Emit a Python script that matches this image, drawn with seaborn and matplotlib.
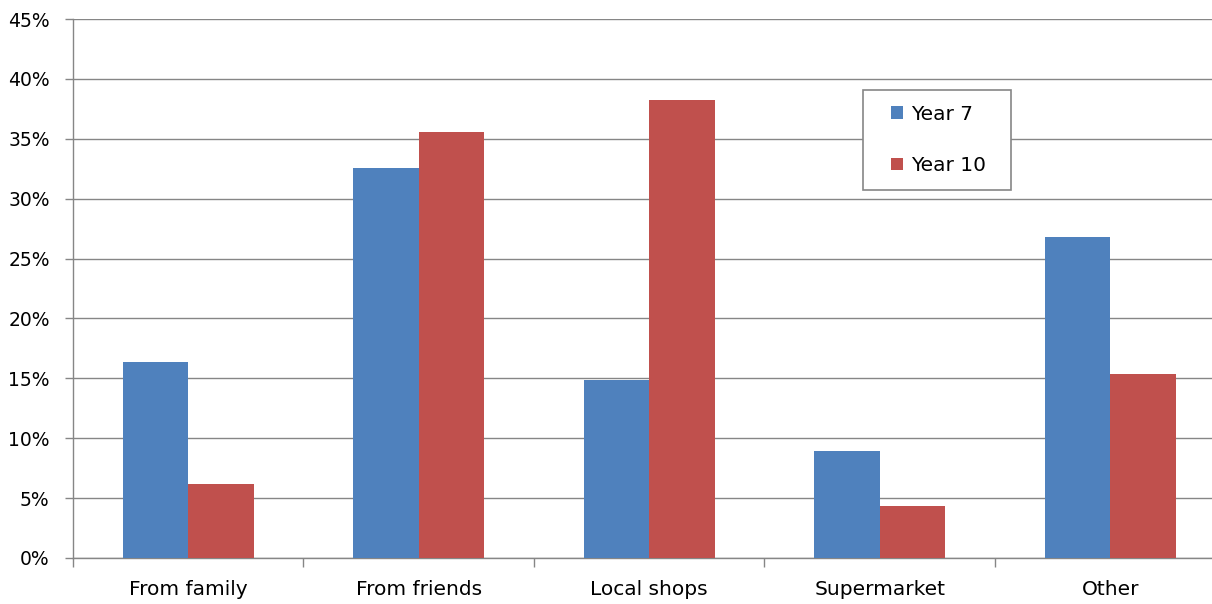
import matplotlib
matplotlib.use("Agg")
import matplotlib.pyplot as plt
from matplotlib.patches import Rectangle, Patch
from matplotlib.ticker import FixedLocator, FuncFormatter
import numpy as np
import pandas as pd
import seaborn as sns

# Where pupils get their items, by year group (percent of respondents)
sources = ["From family", "From friends", "Local shops", "Supermarket", "Other"]
year7 = [16.4, 32.6, 14.9, 8.9, 26.8]
year10 = [6.2, 35.6, 38.2, 4.3, 15.4]
groups = ["Year 7", "Year 10"]
colors = ["#4F81BD", "#C0504D"]
y_ticks = [0, 5, 10, 15, 20, 25, 30, 35, 40, 45]

df = pd.DataFrame({
    "source": sources * 2,
    "pct": year7 + year10,
    "year": [groups[0]] * len(sources) + [groups[1]] * len(sources),
})

sns.set_theme(style="white")
plt.rcParams["font.family"] = ["DejaVu Sans"]
plt.rcParams["text.color"] = "black"

fig = plt.figure(figsize=(12.12, 6.04), dpi=100)
ax = fig.add_axes([0.0602, 0.0762, 0.9509, 0.8923])

sns.barplot(data=df, x="source", y="pct", hue="year", order=sources,
            hue_order=groups, palette=colors, width=0.57, saturation=1,
            gap=0, ax=ax, legend=False, zorder=3, edgecolor="none")

grid_c = "#868686"
ax.set_ylim(0, 45)
ax.set_xlim(-0.5, len(sources) - 0.5)
ax.yaxis.set_major_locator(FixedLocator(y_ticks))
ax.yaxis.set_major_formatter(FuncFormatter(lambda v, p: f"{v:.0f}%"))
ax.yaxis.grid(True, color=grid_c, linewidth=1.0, zorder=0)
ax.set_axisbelow(True)

# category boundaries carry the tick marks on the x axis
ax.xaxis.set_minor_locator(FixedLocator(np.arange(-0.5, len(sources), 1.0)))
ax.tick_params(axis="x", which="major", length=0, pad=16, labelsize=14.5,
               labelcolor="black")
ax.tick_params(axis="x", which="minor", bottom=True, length=6.5, width=1.0,
               color=grid_c)
ax.tick_params(axis="y", which="major", left=True, length=5.8, width=1.0,
               color=grid_c, pad=11, labelsize=13.5, labelcolor="black")
ax.set_xlabel("")
ax.set_ylabel("")

for side in ("top", "right"):
    ax.spines[side].set_visible(False)
for side in ("left", "bottom"):
    ax.spines[side].set_color(grid_c)
    ax.spines[side].set_linewidth(1.0)

# legend box
ax.add_patch(Rectangle((0.6855, 0.6827), 0.1284, 0.1855, transform=ax.transAxes,
                       facecolor="white", edgecolor=grid_c, linewidth=1.2,
                       zorder=5, clip_on=False))
handles = [Patch(facecolor=c, edgecolor="none") for c in colors]
leg = ax.legend(handles, groups, loc="center left",
                bbox_to_anchor=(0.7095, 0.7755), frameon=False, fontsize=14.5,
                handlelength=0.6, handleheight=0.6, handletextpad=0.4,
                labelspacing=1.6, borderpad=0, borderaxespad=0)
for t in leg.get_texts():
    t.set_color("black")
leg.set_zorder(6)

fig.savefig("out.png", dpi=100)
